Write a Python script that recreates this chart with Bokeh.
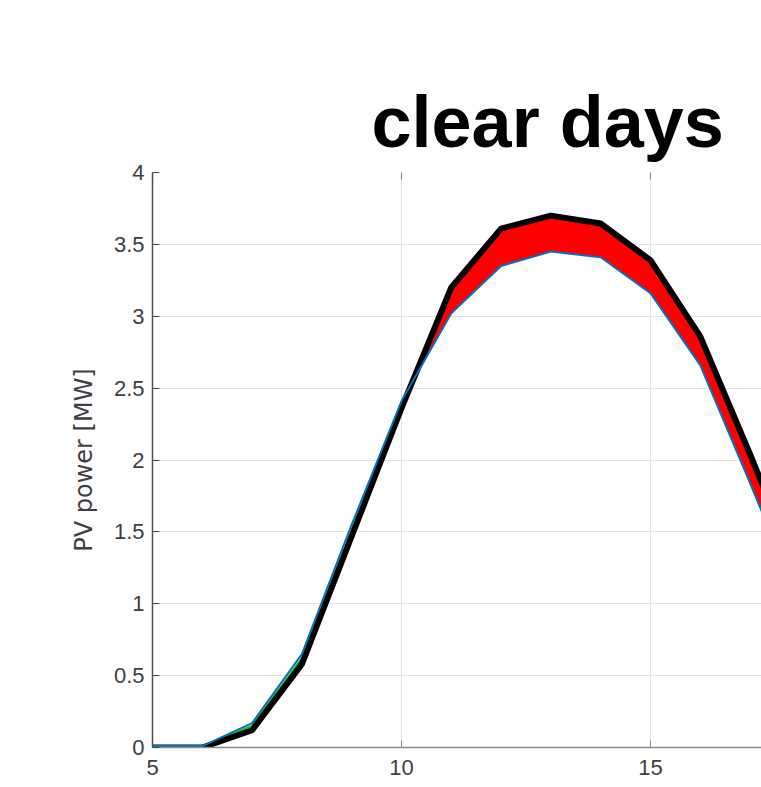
import numpy as np
from bokeh.plotting import figure
from bokeh.models import Range1d, FixedTicker, NumeralTickFormatter
from bokeh.embed import file_html
from bokeh.resources import INLINE

# ---- data ----
hours = [5, 6, 7, 8, 9, 10, 11, 12, 13, 14, 15, 16, 17, 18]
upper_mw = [0.00, 0.00, 0.12, 0.58, 1.47, 2.36, 3.20, 3.61, 3.70, 3.645, 3.39, 2.86, 2.04, 1.20]
middle_mw = [0.005, 0.005, 0.15, 0.62, 1.51, 2.38, 3.19, 3.60, 3.69, 3.635, 3.38, 2.85, 2.03, 1.19]
lower_mw = [0.01, 0.01, 0.17, 0.65, 1.55, 2.41, 3.02, 3.35, 3.45, 3.41, 3.16, 2.66, 1.84, 1.00]

x_ticks = [5, 10, 15]
y_ticks = [0, 0.5, 1, 1.5, 2, 2.5, 3, 3.5, 4]
title_text = "clear days"
y_label = "PV power [MW]"

upper = np.array(upper_mw)
lower = np.array(lower_mw)

p = figure(width=761, height=787, output_backend="svg", toolbar_location=None,
           x_range=Range1d(5, 17.23), y_range=Range1d(0, 4),
           min_border_left=152, min_border_right=0, min_border_top=172, min_border_bottom=40,
           title=title_text)
p.outline_line_color = None
p.background_fill_color = "white"
p.border_fill_color = "white"

p.title.align = "left"
p.title.offset = 219
p.title.text_font = "Liberation Sans"
p.title.text_font_size = "72px"
p.title.text_font_style = "bold"
p.title.text_color = "black"
p.title.standoff = 22

tick_font = "Liberation Sans"
tick_color = "#404040"

# bottom axis
xa = p.xaxis[0]
xa.ticker = FixedTicker(ticks=x_ticks)
xa.axis_line_color = "#8c8c8c"
xa.axis_line_width = 1.5
xa.major_tick_line_color = "#8c8c8c"
xa.major_tick_in = 7
xa.major_tick_out = 0
xa.minor_tick_line_color = None
xa.major_label_standoff = 12
xa.major_label_text_font = tick_font
xa.major_label_text_font_size = "22px"
xa.major_label_text_color = tick_color

# left axis
ya = p.yaxis[0]
ya.ticker = FixedTicker(ticks=y_ticks)
ya.formatter = NumeralTickFormatter(format="0.[0]")
ya.axis_line_color = "#4d4d4d"
ya.axis_line_width = 1.5
ya.major_tick_line_color = "#4d4d4d"
ya.major_tick_in = 7
ya.major_tick_out = 0
ya.minor_tick_line_color = None
ya.major_label_standoff = 8
ya.major_label_text_font = tick_font
ya.major_label_text_font_size = "22px"
ya.major_label_text_color = tick_color
ya.axis_label = y_label
ya.axis_label_text_font = "DejaVu Sans"
ya.axis_label_text_font_size = "24px"
ya.axis_label_text_font_style = "normal"
ya.axis_label_text_color = tick_color
ya.axis_label_standoff = 13

p.xgrid.grid_line_color = "#e3e3e3"
p.ygrid.grid_line_color = "#e3e3e3"
p.xgrid.grid_line_width = 1
p.ygrid.grid_line_width = 1

# inward tick marks along the top edge of the box (lower half of a vertical dash, clipped by the frame)
p.scatter(x_ticks, [y_ticks[-1]] * len(x_ticks), marker="dash", angle=np.pi / 2, size=14,
          line_color="#8c8c8c", line_width=1.2)

# band between curves (red where upper exceeds lower)
p.varea(x=hours, y1=lower, y2=np.maximum(upper, lower), fill_color="#ff0000")
p.line(hours, middle_mw, line_color="#00c000", line_width=2)
p.line(hours, upper_mw, line_color="black", line_width=6, line_join="round")
p.line(hours, lower_mw, line_color="#0072BD", line_width=2)

open("out.html", "w").write(file_html(p, INLINE))
